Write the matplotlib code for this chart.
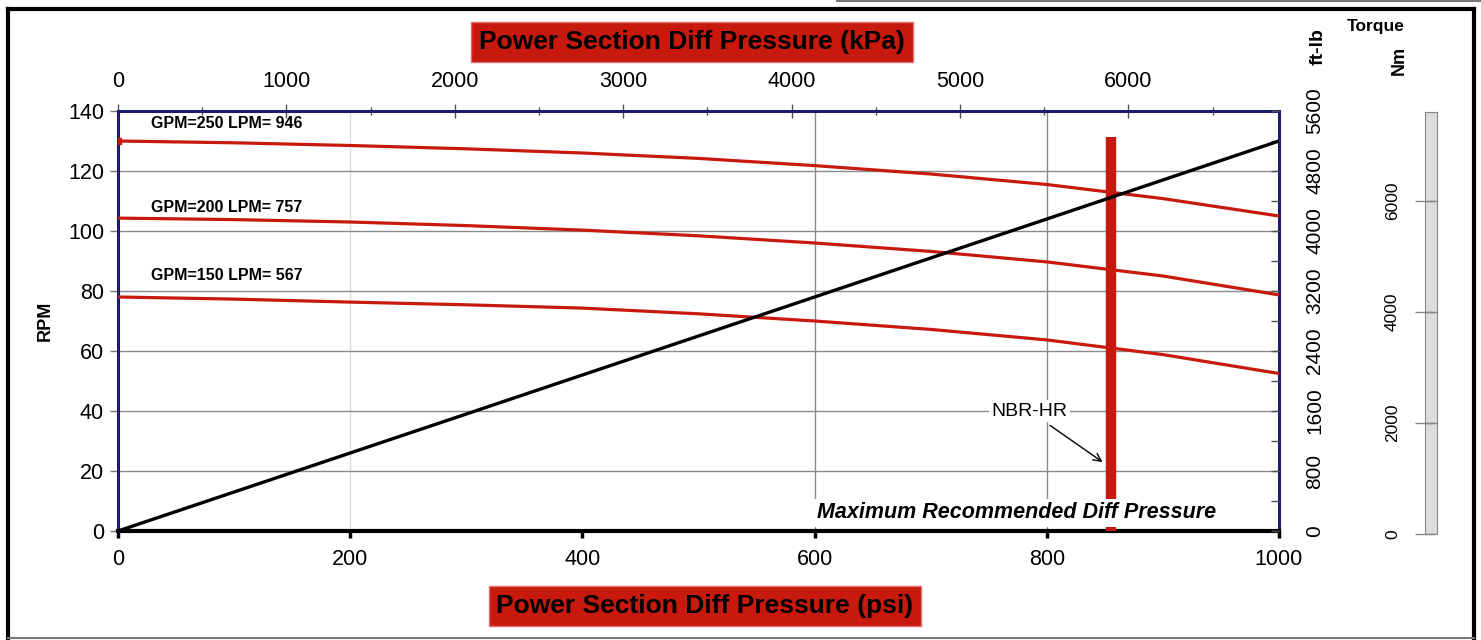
import matplotlib
matplotlib.use("Agg")
import matplotlib.pyplot as plt
from matplotlib.lines import Line2D

plt.rcParams['font.family'] = ['Liberation Sans', 'DejaVu Sans']

# differential pressure (psi) and motor speed (RPM) for each flow rate
psi = [0, 100, 200, 300, 400, 500, 600, 700, 800, 900, 1000]
rpm_250 = [130, 129.4, 128.5, 127.4, 126, 124.2, 121.8, 119, 115.5, 110.8, 105]
rpm_200 = [104.3, 103.8, 103, 101.8, 100.3, 98.4, 96, 93.2, 89.7, 85, 78.7]
rpm_150 = [78, 77.3, 76.3, 75.4, 74.3, 72.4, 70, 67.2, 63.7, 58.8, 52.5]
flow_labels = ["GPM=250 LPM= 946", "GPM=200 LPM= 757", "GPM=150 LPM= 567"]

# torque line (ft-lb)
torque_psi = [0, 1000]
torque_ftlb = [0, 5200]

max_diff_psi = 855
max_bar_top = 131.5

RED = '#c8190f'
NAVY = '#1c1c6e'
PSI_TO_KPA = 6.894757
FTLB_TO_NM = 1.355818

W, H = 1481, 640
fig = plt.figure(figsize=(W / 100, H / 100), dpi=100)

def fx(px):
    return px / W

def fy(py):
    return 1 - py / H

ax = fig.add_axes([fx(118), fy(531), fx(1279) - fx(118), fy(111) - fy(531)])
ax.set_xlim(0, 1000)
ax.set_ylim(0, 140)

# grid
ax.set_yticks(range(0, 141, 20))
ax.yaxis.grid(True, color='#8a8a8a', lw=1)
ax.axvline(200, color='#dddddd', lw=1, zorder=0)
for xv in (600, 800):
    ax.axvline(xv, color='#8a8a8a', lw=1, zorder=0)

# rpm curves
ax.plot(psi, rpm_250, color=RED, lw=2.3, zorder=3)
ax.plot(psi[:1], rpm_250[:1], marker='s', ms=5, color=RED, zorder=3)
ax.plot(psi, rpm_200, color=RED, lw=2.3, zorder=3)
ax.plot(psi, rpm_150, color=RED, lw=2.3, zorder=3)

label_y = [135.7, 108, 85]
for txt, yv in zip(flow_labels, label_y):
    ax.text(28, yv, txt, fontsize=11.5, fontweight='bold', va='center', ha='left')

# maximum recommended differential pressure bar
ax.plot([max_diff_psi, max_diff_psi], [0, max_bar_top], color=RED, lw=7.5,
        solid_capstyle='butt', zorder=4)
ax.text(774, 6, "Maximum Recommended Diff Pressure", fontsize=15.5,
        fontweight='bold', fontstyle='italic', ha='center', va='center', zorder=5,
        bbox=dict(facecolor='white', edgecolor='none', pad=2.5))
ax.annotate("NBR-HR", xy=(848, 23), xytext=(785, 40), fontsize=14,
            ha='center', va='center', zorder=5,
            bbox=dict(facecolor='white', edgecolor='none', pad=2),
            arrowprops=dict(arrowstyle='->', color='black', lw=1,
                            shrinkA=4, shrinkB=0))

# spines and ticks of the main axes
for side in ('left', 'top', 'right'):
    ax.spines[side].set_color(NAVY)
    ax.spines[side].set_linewidth(2.2)
ax.spines['bottom'].set_color('black')
ax.spines['bottom'].set_linewidth(3)
ax.set_xticks(range(0, 1001, 200))
ax.tick_params(axis='x', direction='out', length=5, width=2.5, color='black',
               labelsize=15.5, pad=8)
ax.tick_params(axis='y', direction='out', length=6, width=1, color='#777777',
               labelsize=15.5, pad=4)
ax.set_ylabel("RPM", fontsize=13, fontweight='bold', labelpad=10)

# top axis in kPa
top = ax.secondary_xaxis('top', functions=(lambda p: p * PSI_TO_KPA,
                                           lambda k: k / PSI_TO_KPA))
top.set_xticks(range(0, 7000, 1000))
top.set_xticks(range(500, 7000, 1000), minor=True)
top.spines['top'].set_visible(False)
top.tick_params(axis='x', which='major', direction='inout', length=10, width=1,
                color='#555555', labelsize=15.5, pad=9)
top.tick_params(axis='x', which='minor', direction='inout', length=6, width=1,
                color='#555555')

# torque on ft-lb axis
ax2 = ax.twinx()
ax2.set_ylim(0, 5600)
ax2.plot(torque_psi, torque_ftlb, color='black', lw=2.4, zorder=6)
ax2.set_yticks(range(0, 5601, 800))
ax2.set_yticks(range(400, 5600, 800), minor=True)
ax2.tick_params(axis='y', which='both', direction='in', length=6, width=1,
                color='#555555')
ax2.tick_params(axis='y', which='major', labelsize=15, pad=19, labelrotation=90)
for lab in ax2.get_yticklabels():
    lab.set_va('center')
for side in ax2.spines:
    ax2.spines[side].set_visible(False)

# Nm scale bar
axn = fig.add_axes([fx(1425), fy(534), fx(12), fy(112) - fy(534)])
axn.set_facecolor('#dcdcdc')
axn.set_ylim(0, 5600 * FTLB_TO_NM)
axn.set_xticks([])
axn.set_yticks(range(0, 7000, 2000))
axn.tick_params(axis='y', direction='inout', length=14, width=1, color='#888888',
                labelsize=12.5, pad=11, labelrotation=90)
for lab in axn.get_yticklabels():
    lab.set_va('center')
for side in axn.spines:
    axn.spines[side].set_color('#888888')
axn.yaxis.grid(True, color='#888888', lw=1)

# titles in red boxes
box = dict(facecolor=RED, edgecolor='#e07070', boxstyle='square,pad=0.3')
fig.text(fx(692), fy(42), "Power Section Diff Pressure (kPa)", fontsize=19,
         fontweight='bold', ha='center', va='center', bbox=box)
fig.text(fx(705), fy(606), "Power Section Diff Pressure (psi)", fontsize=19,
         fontweight='bold', ha='center', va='center', bbox=box)

fig.text(fx(1376), fy(26), "Torque", fontsize=12.5, fontweight='bold',
         ha='center', va='center')
fig.text(fx(1318), fy(47), "ft-lb", fontsize=14, fontweight='bold',
         ha='center', va='center', rotation=90)
fig.text(fx(1399), fy(60), "Nm", fontsize=13, fontweight='bold',
         ha='center', va='center', rotation=90)

# outer frame
for (x0, y0, x1, y1, c, w) in [(8, 9, 8, 638, 'black', 3),
                               (8, 9, 1474, 9, 'black', 3),
                               (1474, 9, 1474, 638, 'black', 3),
                               (8, 638, 1474, 638, '#777777', 1.5),
                               (837, 1, 1481, 1, '#777777', 1.5)]:
    fig.add_artist(Line2D([fx(x0), fx(x1)], [fy(y0), fy(y1)], color=c, lw=w,
                          transform=fig.transFigure))

fig.savefig("out.png", dpi=100)
